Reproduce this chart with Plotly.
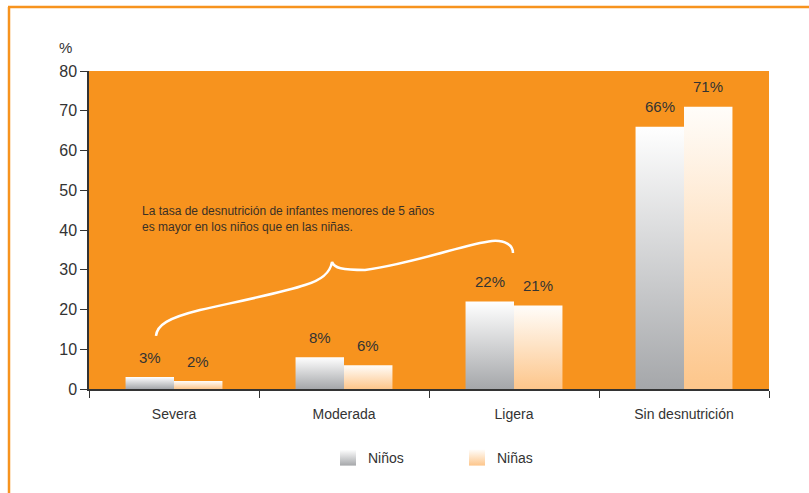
import plotly.graph_objects as go

# --- data -------------------------------------------------------------
categories = ["Severa", "Moderada", "Ligera", "Sin desnutrición"]
ninos = [3, 8, 22, 66]
ninas = [2, 6, 21, 71]
series_names = ["Niños", "Niñas"]
y_ticks = [0, 10, 20, 30, 40, 50, 60, 70, 80]
note_text = ("La tasa de desnutrición de infantes menores de 5 años<br>"
             "es mayor en los niños que en las niñas.")

# --- style ------------------------------------------------------------
FONT = "Liberation Sans Narrow, Arial Narrow, Liberation Sans, sans-serif"
ORANGE = "#F7931E"
TEXT = "#333333"
GRAY_BOTTOM, GRAY_TOP = "#a5a7aa", "#ffffff"
PEACH_BOTTOM, PEACH_TOP = "#fdc68b", "#fffdfa"

W, H = 809, 493
L, R, T, B = 89, 40, 71, 104


def px(x):
    return (x - L) / (W - L - R)


def py(y):
    return (H - B - y) / (H - T - B)


bar_w = 0.285
offsets = [-bar_w / 2, bar_w / 2]
series = [
    (ninos, series_names[0], GRAY_BOTTOM, GRAY_TOP),
    (ninas, series_names[1], PEACH_BOTTOM, PEACH_TOP),
]

fig = go.Figure()
annotations = []

# bars drawn as filled rectangles so each can carry a vertical gradient
for s, (vals, name, c_bot, c_top) in enumerate(series):
    for i, v in enumerate(vals):
        xc = i + offsets[s]
        x0, x1 = xc - bar_w / 2, xc + bar_w / 2
        fig.add_trace(go.Scatter(
            x=[x0, x1, x1, x0, x0], y=[0, 0, v, v, 0],
            mode="lines", line=dict(width=0),
            fill="toself",
            fillgradient=dict(type="vertical",
                              colorscale=[[0, c_bot], [1, c_top]]),
            showlegend=False, hoverinfo="skip",
        ))
        annotations.append(dict(
            x=xc, y=v, xref="x", yref="y", text=f"{v}%",
            showarrow=False, yshift=20,
            font=dict(family=FONT, size=15, color=TEXT),
        ))

# legend swatches
for vals, name, c_bot, c_top in series:
    fig.add_trace(go.Scatter(
        x=[None], y=[None], mode="markers", name=name,
        marker=dict(symbol="square", size=17, color=c_top,
                    line=dict(width=0),
                    gradient=dict(type="vertical", color=c_bot)),
    ))

# axis unit label and note
annotations.append(dict(
    x=px(65), y=py(48), xref="paper", yref="paper", text="%",
    xanchor="center", yanchor="middle",
    showarrow=False, font=dict(family=FONT, size=15, color=TEXT),
))
annotations.append(dict(
    x=px(140), y=py(219.5), xref="paper", yref="paper", text=note_text,
    showarrow=False, xanchor="left", yanchor="middle", align="left",
    font=dict(family=FONT, size=12, color="#3a3026"),
))


def path(cmds):
    out = []
    for c, pts in cmds:
        out.append(c + " " + " ".join(f"{px(a):.4f},{py(b):.4f}" for a, b in pts))
    return " ".join(out)


brace = path([
    ("M", [(156, 336)]),
    ("C", [(157, 325), (168, 318), (200, 310)]),
    ("C", [(240, 301), (285, 292), (305, 285)]),
    ("C", [(322, 280), (330, 273), (332, 262)]),
    ("C", [(334, 268), (342, 270), (365, 270)]),
    ("C", [(420, 262), (465, 244), (492, 241)]),
    ("C", [(505, 240), (513, 245), (513, 253)]),
])

shapes = [
    # brace grouping the three malnutrition levels
    dict(type="path", xref="paper", yref="paper", path=brace,
         line=dict(color="white", width=2.5)),
    # outer frame (left and top)
    dict(type="line", xref="paper", yref="paper",
         x0=px(9), x1=px(9), y0=py(7), y1=py(H + 5),
         line=dict(color=ORANGE, width=2.5)),
    dict(type="line", xref="paper", yref="paper",
         x0=px(8), x1=px(W + 5), y0=py(7), y1=py(7),
         line=dict(color=ORANGE, width=2.5)),
]

fig.update_layout(
    width=W, height=H,
    margin=dict(l=L, r=R, t=T, b=B),
    paper_bgcolor="white", plot_bgcolor=ORANGE,
    font=dict(family=FONT, size=14, color=TEXT),
    annotations=annotations, shapes=shapes,
    legend=dict(orientation="h", x=px(328), xanchor="left",
                y=py(442), yanchor="top",
                entrywidth=84, entrywidthmode="pixels",
                font=dict(family=FONT, size=14, color=TEXT),
                bgcolor="rgba(0,0,0,0)"),
    xaxis=dict(
        range=[-0.5, 3.5], tickvals=list(range(len(categories))),
        ticktext=categories, ticks="", showgrid=False, zeroline=False,
        showline=True, linecolor="#333333", linewidth=1.5,
        ticklabelstandoff=11,
        tickfont=dict(family=FONT, size=14, color=TEXT),
        minor=dict(tickvals=[-0.5, 0.5, 1.5, 2.5, 3.5], ticks="outside",
                   ticklen=7, tickcolor="#333333", tickwidth=1.2,
                   showgrid=False),
        fixedrange=True,
    ),
    yaxis=dict(
        range=[0, 80], tickvals=y_ticks, ticks="outside", ticklen=7,
        tickcolor="#333333", tickwidth=1.2, showgrid=False, zeroline=False,
        showline=True, linecolor="#333333", linewidth=1.5,
        tickfont=dict(family=FONT, size=16, color=TEXT),
        fixedrange=True,
    ),
    showlegend=True,
)

fig.write_html("out.html")
